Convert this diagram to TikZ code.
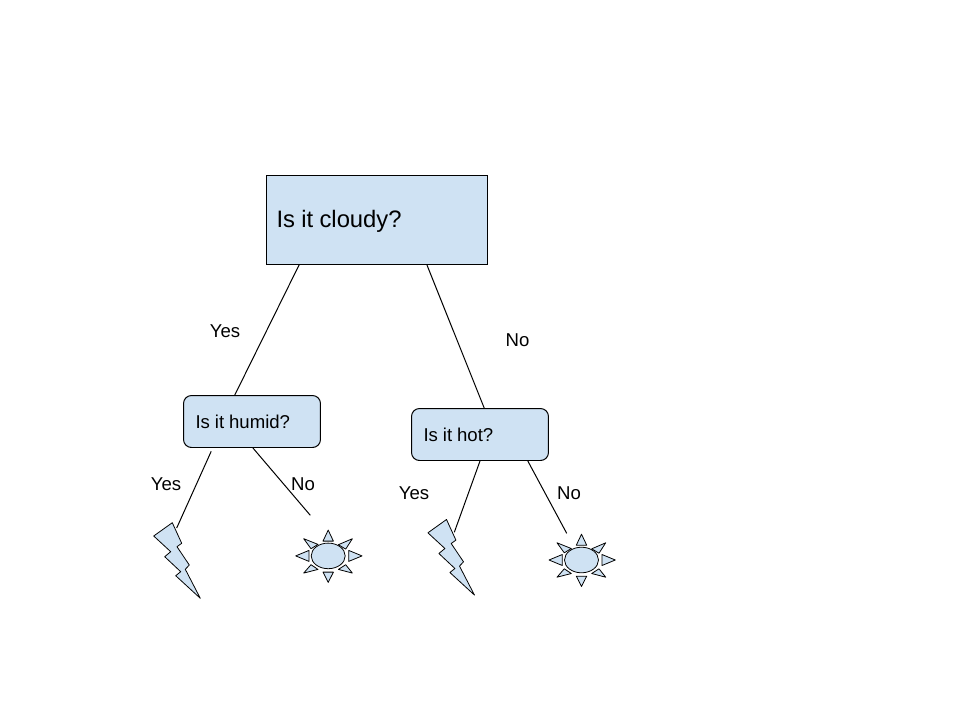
\documentclass[tikz,border=0pt]{standalone}
\usepackage{fontspec}
\setmainfont{Liberation Sans}

\definecolor{boxblue}{HTML}{CFE2F3}

\tikzset{
   question/.style={draw, fill=boxblue, line width=0.567pt, align=left, inner xsep=0.2cm, inner ysep=0pt, execute at begin node={\spaceskip=0.265em\relax}},
   small question/.style={question, inner xsep=0.24cm, rounded corners=0.16cm, minimum width=2.74cm, minimum height=1.04cm, text width=2.26cm, font=\fontsize{10.58}{12}\selectfont},
   answer/.style={inner sep=0pt, font=\fontsize{10.58}{12}\selectfont},
   branch/.style={line width=0.567pt},
   bolt/.pic={
      \draw [fill=boxblue, line width=0.45pt, line join=round]
         (0,0) -- (9.4,20.6) -- (4.7,24) -- (17,42.3) -- (13,46.6) -- (28,75.6)
         -- (3.4,53) -- (8.4,49) -- (-7.6,34) -- (-1.6,29) -- (-18.6,13.3) -- cycle;
   },
   sun/.pic={
      \draw [fill=boxblue, line width=0.45pt] (0,0) ellipse [x radius=17, y radius=12.8];
      \foreach \ax/\ay/\bx/\by/\cx/\cy in {
         0/-25.8/-5.2/-14.8/5.2/-14.8,
         0/26.5/-5.2/16.2/5.2/16.2,
         -32.5/0/-19.2/-5.5/-19.2/5.5,
         33.8/0/20.5/-5.5/20.5/5.5,
         -24.5/-17.2/-10.2/-11.5/-17.2/-7.2,
         24.2/-17.2/10.2/-11.2/17.5/-6.8,
         -24.5/17.2/-17.2/8.8/-10.2/13.5,
         24.2/17.2/10.2/13.5/17.5/8.8}
         \draw [fill=boxblue, line width=0.45pt, line join=round] (\ax,\ay) -- (\bx,\by) -- (\cx,\cy) -- cycle;
   }
}

\begin{document}
\begin{tikzpicture}[x=0.02cm, y=-0.02cm]

   \useasboundingbox (0,0) rectangle (960,720);

   % questions
   \node [question, minimum width=4.42cm, minimum height=1.78cm, text width=4.02cm,
      text height=0.408cm, text depth=0.1cm,
      font=\fontsize{13.55}{16}\selectfont] (cloudy) at (377,220) {Is it cloudy?};
   \node [small question] (humid) at (252,421.5) {Is it humid?};
   \node [small question] (hot) at (480,434.5) {Is it hot?};

   % free ends
   \coordinate (humidYes) at (176.7,528);
   \coordinate (humidNo) at (310.3,515.3);
   \coordinate (hotYes) at (454.3,532.3);
   \coordinate (hotNo) at (566.7,533.3);

   \draw [branch] (cloudy.210.8) -- (humid.123.2);
   \draw [branch] (cloudy.-42) -- (hot.81.3);
   \draw [branch, shorten <=2.1pt] (humid.214.4) -- (humidYes);
   \draw [branch] (humid.-88.5) -- (humidNo);
   \draw [branch] (hot.south) -- (hotYes);
   \draw [branch] (hot.-29.5) -- (hotNo);

   % answers
   \node [answer] (yesA) at (225,331) {Yes};
   \node [answer] (noA) at (517.5,340) {No};
   \node [answer] (yesB) at (166,484) {Yes};
   \node [answer] (noB) at (303,484) {No};
   \node [answer] (yesC) at (414,493) {Yes};
   \node [answer] (noC) at (569,493) {No};

   % weather
   \pic at (172.3,522.7) {bolt};
   \pic at (446.5,519.5) {bolt};
   \pic at (328.2,555.9) {sun};
   \pic at (581.5,560) {sun};

\end{tikzpicture}
\end{document}
